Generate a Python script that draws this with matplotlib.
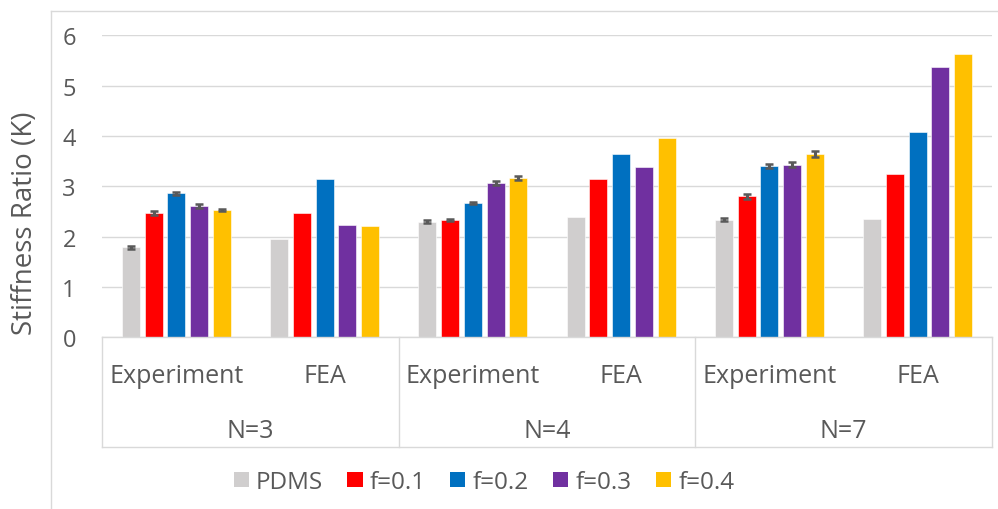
import numpy as np
import matplotlib
matplotlib.use("Agg")
import matplotlib.pyplot as plt
from matplotlib.lines import Line2D
from matplotlib.patches import Patch
from matplotlib.transforms import blended_transform_factory

plt.rcParams["font.family"] = ["Open Sans", "DejaVu Sans"]

subcategories = ["Experiment", "FEA", "Experiment", "FEA", "Experiment", "FEA"]
groups = ["N=3", "N=4", "N=7"]
series_names = ["PDMS", "f=0.1", "f=0.2", "f=0.3", "f=0.4"]
colors = ["#D0CECE", "#FF0000", "#0070C0", "#7030A0", "#FFC000"]

# stiffness ratio per (N, method): Exp N=3, FEA N=3, Exp N=4, FEA N=4, Exp N=7, FEA N=7
pdms = [1.79, 1.95, 2.30, 2.40, 2.34, 2.35]
f01 = [2.47, 2.47, 2.33, 3.15, 2.80, 3.24]
f02 = [2.86, 3.15, 2.67, 3.64, 3.41, 4.08]
f03 = [2.61, 2.24, 3.07, 3.38, 3.43, 5.37]
f04 = [2.53, 2.21, 3.17, 3.96, 3.64, 5.63]

# error bars only on the experimental results (N=3, N=4, N=7)
pdms_err = [0.027, 0.033, 0.024]
f01_err = [0.047, 0.026, 0.054]
f02_err = [0.036, 0.027, 0.043]
f03_err = [0.043, 0.037, 0.047]
f04_err = [0.024, 0.034, 0.060]

values = [pdms, f01, f02, f03, f04]
errors = [pdms_err, f01_err, f02_err, f03_err, f04_err]

text_color = "#595959"
line_color = "#D9D9D9"

fig = plt.figure(figsize=(9.98, 5.10), dpi=100)
ax = fig.add_axes([0.1025, 0.3367, 0.8912, 0.5918])

x = np.arange(len(subcategories))
pitch = 0.1535
width = 0.121
exp_idx = x[::2]

for k, (name, vals, errs, c) in enumerate(zip(series_names, values, errors, colors)):
    pos = x + (k - 2) * pitch
    ax.bar(pos, vals, width, color=c, edgecolor="white", linewidth=0.4, zorder=2, label=name)
    ax.errorbar(pos[::2], np.array(vals)[exp_idx], yerr=errs, fmt="none",
                ecolor=text_color, elinewidth=2.2, capsize=2.8, capthick=1.8, zorder=3)

ax.set_xlim(-0.5, 5.5)
ax.set_ylim(0, 6)
ax.set_yticks(range(0, 7))
ax.yaxis.grid(True, color=line_color, linewidth=1.0, zorder=0)
ax.set_axisbelow(True)
ax.tick_params(axis="y", length=0, pad=19, labelsize=17, labelcolor=text_color)
ax.set_xticks([])
for s in ["top", "right", "left"]:
    ax.spines[s].set_visible(False)
ax.spines["bottom"].set_color(line_color)
ax.spines["bottom"].set_linewidth(1.0)

# two-level category axis below the plot
trans = blended_transform_factory(ax.transData, ax.transAxes)
for i, lab in enumerate(subcategories):
    ax.text(i, -0.127, lab, transform=trans, ha="center", va="center",
            fontsize=18, color=text_color)
for g, lab in enumerate(groups):
    ax.text(2 * g + 0.5, -0.31, lab, transform=trans, ha="center", va="center",
            fontsize=18, color=text_color)
for xb in [-0.5, 1.5, 3.5, 5.5]:
    ax.plot([xb, xb], [0, -0.3635], transform=trans, color=line_color,
            linewidth=1.0, clip_on=False)
ax.plot([-0.5, 5.5], [-0.3635, -0.3635], transform=trans, color=line_color,
        linewidth=1.0, clip_on=False)

fig.text(0.025, 0.562, "Stiffness Ratio (K)", rotation=90, ha="center", va="center",
         fontsize=20, color=text_color)

handles = [Patch(facecolor=c, edgecolor="none") for c in colors]
fig.legend(handles, series_names, loc="center", bbox_to_anchor=(0.485, 0.053), ncol=5,
           frameon=False, fontsize=17.5, labelcolor=text_color, handlelength=0.62,
           handleheight=0.62, handletextpad=0.3, columnspacing=1.0)

# outer chart border
fig.add_artist(Line2D([0.0511, 0.0511], [0.0, 0.9765], color=line_color, linewidth=1.0))
fig.add_artist(Line2D([0.0511, 1.0], [0.9765, 0.9765], color=line_color, linewidth=1.0))

fig.savefig("out.png", dpi=100)
